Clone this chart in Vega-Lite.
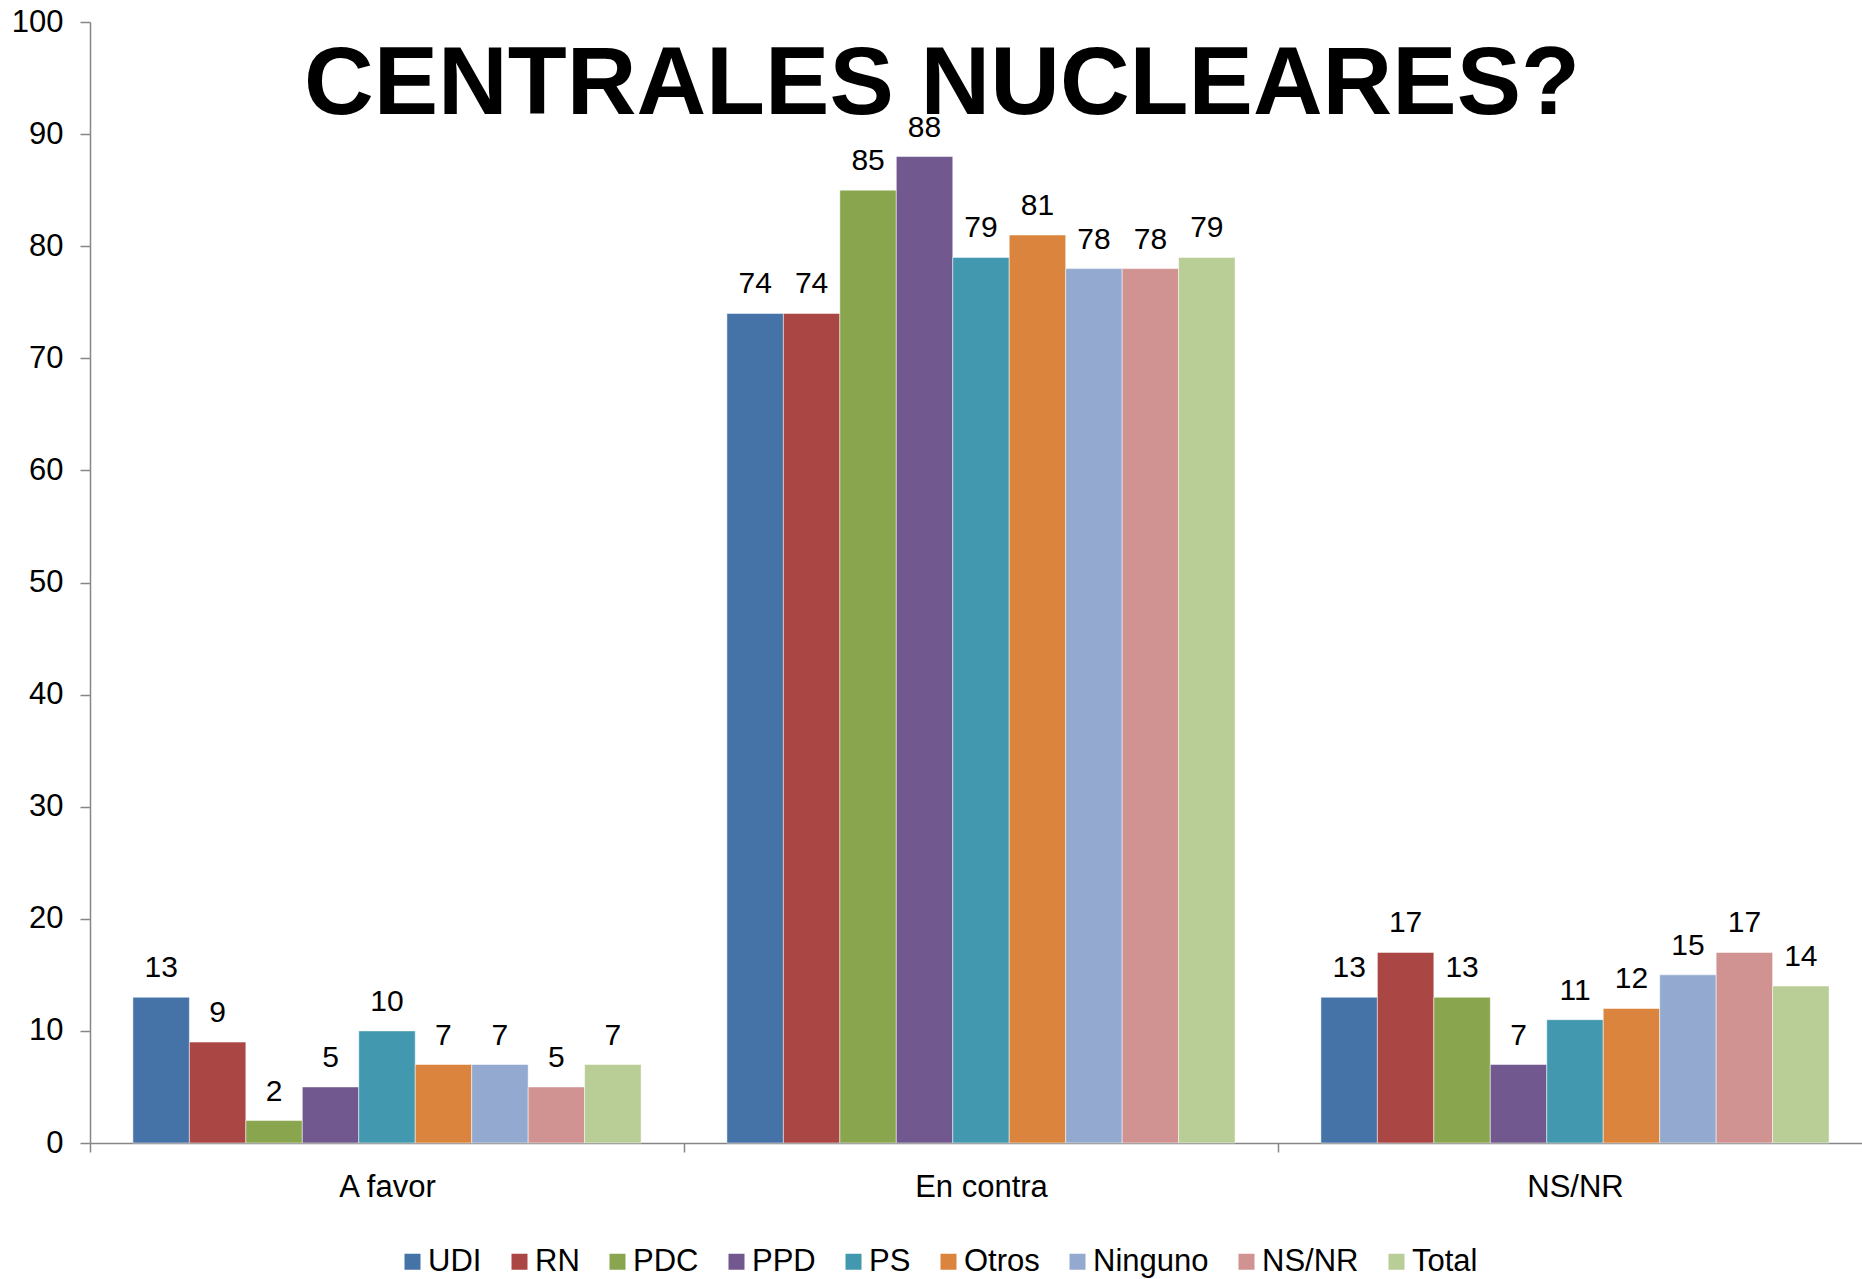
{
  "$schema": "https://vega.github.io/schema/vega-lite/v6.json",
  "width": 1782,
  "height": 1121,
  "autosize": {"type": "none"},
  "padding": {"left": 90, "top": 22, "right": 0, "bottom": 136},
  "background": "white",
  "config": {
    "font": "Liberation Sans",
    "view": {"stroke": null}
  },
  "data": {
    "values": [
      {"cat": "A favor", "party": "UDI", "v": 13},
      {"cat": "A favor", "party": "RN", "v": 9},
      {"cat": "A favor", "party": "PDC", "v": 2},
      {"cat": "A favor", "party": "PPD", "v": 5},
      {"cat": "A favor", "party": "PS", "v": 10},
      {"cat": "A favor", "party": "Otros", "v": 7},
      {"cat": "A favor", "party": "Ninguno", "v": 7},
      {"cat": "A favor", "party": "NS/NR", "v": 5},
      {"cat": "A favor", "party": "Total", "v": 7},
      {"cat": "En contra", "party": "UDI", "v": 74},
      {"cat": "En contra", "party": "RN", "v": 74},
      {"cat": "En contra", "party": "PDC", "v": 85},
      {"cat": "En contra", "party": "PPD", "v": 88},
      {"cat": "En contra", "party": "PS", "v": 79},
      {"cat": "En contra", "party": "Otros", "v": 81},
      {"cat": "En contra", "party": "Ninguno", "v": 78},
      {"cat": "En contra", "party": "NS/NR", "v": 78},
      {"cat": "En contra", "party": "Total", "v": 79},
      {"cat": "NS/NR", "party": "UDI", "v": 13},
      {"cat": "NS/NR", "party": "RN", "v": 17},
      {"cat": "NS/NR", "party": "PDC", "v": 13},
      {"cat": "NS/NR", "party": "PPD", "v": 7},
      {"cat": "NS/NR", "party": "PS", "v": 11},
      {"cat": "NS/NR", "party": "Otros", "v": 12},
      {"cat": "NS/NR", "party": "Ninguno", "v": 15},
      {"cat": "NS/NR", "party": "NS/NR", "v": 17},
      {"cat": "NS/NR", "party": "Total", "v": 14}
    ]
  },
  "encoding": {
    "x": {
      "field": "cat", "type": "nominal", "sort": null,
      "scale": {"domain": ["A favor", "En contra", "NS/NR"], "paddingInner": 0, "paddingOuter": 0},
      "axis": {
        "title": null, "labelAngle": 0, "labelFontSize": 31, "labelColor": "black",
        "domainColor": "#868686", "domainWidth": 1.5, "tickColor": "#868686", "tickWidth": 1.5, "tickBand": "extent",
        "tickSize": 9, "labelPadding": 20
      }
    },
    "y": {
      "field": "v", "type": "quantitative",
      "scale": {"domain": [0, 100]},
      "axis": {
        "title": null, "values": [0,10,20,30,40,50,60,70,80,90,100], "grid": false,
        "labelFontSize": 31, "labelColor": "black", "domainColor": "#868686", "domainWidth": 1.5,
        "tickColor": "#868686", "tickWidth": 1.5, "tickSize": 10, "labelPadding": 17
      }
    }
  },
  "layer": [
    {
      "mark": {"type": "bar", "stroke": "white", "strokeWidth": 0.5},
      "encoding": {
        "xOffset": {"field": "party", "type": "nominal", "sort": ["UDI","RN","PDC","PPD","PS","Otros","Ninguno","NS/NR","Total"], "scale": {"paddingInner": 0, "paddingOuter": 0.76}},
        "color": {
          "field": "party", "type": "nominal",
          "sort": ["UDI","RN","PDC","PPD","PS","Otros","Ninguno","NS/NR","Total"],
          "scale": {
            "domain": ["UDI","RN","PDC","PPD","PS","Otros","Ninguno","NS/NR","Total"],
            "range": ["#4572A7","#AA4643","#89A54E","#71588F","#4198AF","#DB843D","#93A9CF","#D19392","#B9CD96"]
          },
          "legend": {
            "title": null, "orient": "none", "legendX": 307, "legendY": 1224, "direction": "horizontal", "columns": 9,
            "padding": 0,
            "symbolType": "square", "symbolSize": 256, "symbolStrokeWidth": 0,
            "labelFontSize": 31, "labelColor": "black", "columnPadding": 22, "labelOffset": 0
          }
        }
      }
    },
    {
      "mark": {"type": "text", "baseline": "bottom", "dy": -14, "fontSize": 30, "color": "black"},
      "encoding": {
        "xOffset": {"field": "party", "type": "nominal", "sort": ["UDI","RN","PDC","PPD","PS","Otros","Ninguno","NS/NR","Total"], "scale": {"paddingInner": 0, "paddingOuter": 0.76}},
        "text": {"field": "v", "type": "quantitative"}
      }
    },
    {
      "data": {"values": [{"t": "CENTRALES NUCLEARES?", "cat": "En contra", "v": 91.8}]},
      "mark": {"type": "text", "fontSize": 96.5, "fontWeight": "bold", "color": "black", "baseline": "alphabetic", "align": "center", "dx": -39},
      "encoding": {
        "text": {"field": "t", "type": "nominal"}
      }
    }
  ]
}
